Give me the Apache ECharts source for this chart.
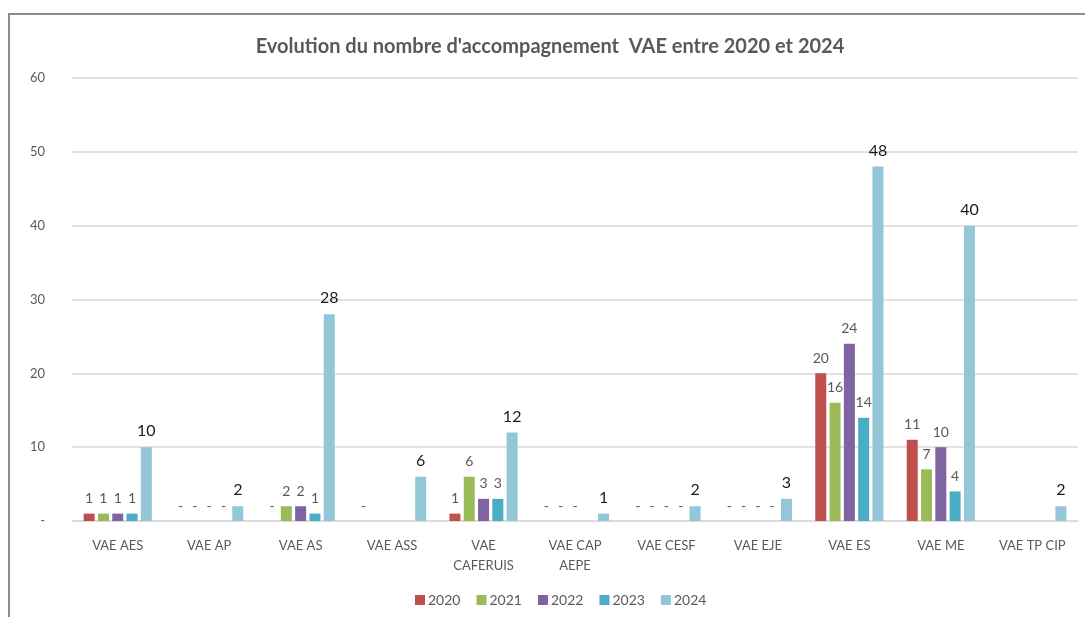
<!DOCTYPE html>
<html>
<head>
<meta charset="utf-8">
<script src="https://cdn.jsdelivr.net/npm/echarts@6/dist/echarts.min.js"></script>
<style>
    html, body { margin:0; padding:0; background:#fff; }
    #frame { position:absolute; left:8px; top:13px; width:1077px; height:604px;
             border-top:2px solid #8c8c8c; border-left:2px solid #8c8c8c; box-sizing:border-box; }
    #chart { width:100%; height:100%; }
</style>
</head>
<body>
<div id="frame"><div id="chart"></div></div>
<script>
// categories (x axis)
const categories = ['VAE AES', 'VAE AP', 'VAE AS', 'VAE ASS', 'VAE\nCAFERUIS', 'VAE CAP\nAEPE',
                    'VAE CESF', 'VAE EJE', 'VAE ES', 'VAE ME', 'VAE TP CIP'];
const years = ['2020', '2021', '2022', '2023', '2024'];
// null = empty cell, 0 = shown as "-"
const v2020 = [1, 0, 0, 0, 1, 0, 0, 0, 20, 11, null];
const v2021 = [1, 0, 2, null, 6, 0, 0, 0, 16, 7, null];
const v2022 = [1, 0, 2, null, 3, 0, 0, 0, 24, 10, null];
const v2023 = [1, 0, 1, null, 3, null, 0, 0, 14, 4, null];
const v2024 = [10, 2, 28, 6, 12, 1, 2, 3, 48, 40, 2];
const colors = ['#c0504d', '#9bbb59', '#8064a2', '#4bacc6', '#93c6d7'];
const yTicks = [0, 10, 20, 30, 40, 50, 60];

const font = 'Lato, "Open Sans", sans-serif';
const seriesData = [v2020, v2021, v2022, v2023, v2024];

let chart = echarts.init(document.getElementById('chart'));
const option = {
    color : colors,
    textStyle : { fontFamily : font },
    title : {
        text : "Evolution du nombre d'accompagnement  VAE entre 2020 et 2024",
        left : 535,
        top : 17,
        textAlign : 'center',
        textStyle : { fontSize : 20, fontWeight : 'bold', color : '#595959', fontFamily : font }
    },
    legend : {
        bottom : 5,
        left : 400,
        itemWidth : 10,
        itemHeight : 10,
        itemGap : 16,
        icon : 'rect',
        textStyle : { fontSize : 14, color : '#595959', padding : [0, 0, 0, -2] },
        data : years
    },
    grid : {
        left : 62,
        right : 7,
        top : 63,
        bottom : 96
    },
    xAxis : {
        type : 'category',
        data : categories,
        axisLine : { lineStyle : { color : '#d9d9d9', width : 1.5 } },
        axisTick : { show : false },
        axisLabel : { color : '#595959', fontSize : 13, margin : 15, lineHeight : 20, interval : 0 }
    },
    yAxis : {
        type : 'value',
        min : 0,
        max : 60,
        interval : 10,
        axisLine : { show : false },
        axisTick : { show : false },
        splitLine : { lineStyle : { color : '#d9d9d9', width : 1.5 } },
        axisLabel : {
            color : '#595959', fontSize : 13, margin : 27,
            formatter : function (v) { return yTicks.indexOf(v) > 0 ? String(v) : '-'; }
        }
    },
    series : years.map(function (y, i) {
        const last = i === years.length - 1;
        return {
            name : y,
            type : 'bar',
            barWidth : 11,
            barGap : '30%',
            itemStyle : { color : colors[i] },
            label : {
                show : true,
                position : 'top',
                distance : 8,
                fontSize : last ? 16 : 14,
                color : last ? '#1a1a1a' : '#595959',
                formatter : function (p) { return p.value === 0 ? '-' : String(p.value); }
            },
            data : seriesData[i]
        };
    })
};
chart.setOption(option);
</script>
</body>
</html>
